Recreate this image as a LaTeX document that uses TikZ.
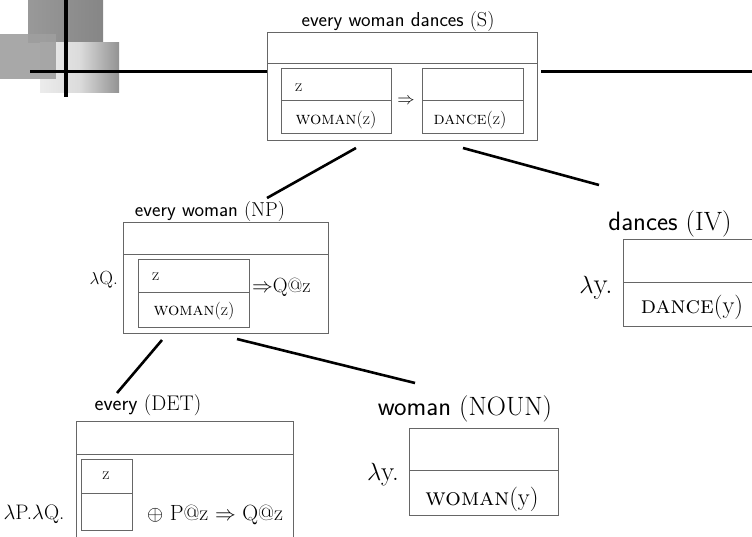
\documentclass[tikz,border=0pt]{standalone}
\usepackage{amsmath, amssymb}
\usepackage{tikz}
\usetikzlibrary{positioning}

\tikzset{
  drsline/.style={draw=black!60, line width=0.9pt},
  branch/.style={line width=2.6pt, line cap=butt},
  rule/.style={line width=3.2pt},
  title/.style={font=\fontsize{20.2}{22}\selectfont},
  bigtitle/.style={font=\fontsize{26.5}{29}\selectfont},
  cond/.style={font=\fontsize{17.8}{20}\selectfont, inner sep=0pt},
  bigcond/.style={font=\fontsize{24.5}{27}\selectfont, inner sep=0pt}
}

\begin{document}
\begin{tikzpicture}[x=1pt, y=-1pt]
    \useasboundingbox (0,0) rectangle (752,536);

    % Corner ornament
    \shade[left color=gray!80, right color=gray!95] (28,0) rectangle (103,42);
    \shade[left color=gray!15, right color=gray!85, middle color=gray!28] (40,42) rectangle (119,92);
    \fill[gray!75, opacity=0.9] (0,34) rectangle (56,79);
    \draw[rule] (66,0) -- (66,97);
    \draw[rule] (30,71.5) -- (267,71.5);
    \draw[rule] (541,71.5) -- (752,71.5);

    % every woman dances (S)
    \node[title] (s-title) at (398,21) {\textsf{every woman dances} (S)};
    \draw[drsline, fill=white] (267,32) rectangle (537,140);
    \draw[drsline] (267,63) -- (537,63);
    \draw[drsline] (281,68) rectangle (391,133);
    \draw[drsline] (281,100) -- (391,100);
    \draw[drsline] (422,68) rectangle (523,133);
    \draw[drsline] (422,100) -- (523,100);
    \node[cond, anchor=west] (s-z) at (295,88) {z};
    \node[cond] (s-woman) at (336,120) {\textsc{woman}(z)};
    \node[cond] (s-imp) at (406,101) {$\Rightarrow$};
    \node[cond] (s-dance) at (470,120) {\textsc{dance}(z)};

    % every woman (NP)
    \node[title] (np-title) at (210,211) {\textsf{every woman} (NP)};
    \draw[drsline] (123,222) rectangle (328,333);
    \draw[drsline] (123,254) -- (328,254);
    \draw[drsline] (138,259) rectangle (249,327);
    \draw[drsline] (138,292) -- (249,292);
    \node[cond, anchor=east, font=\fontsize{19}{21}\selectfont] (np-lambda) at (118,280) {$\lambda$Q.};
    \node[cond, anchor=west] (np-z) at (152,277) {z};
    \node[cond] (np-woman) at (194,311) {\textsc{woman}(z)};
    \node[cond, anchor=west, font=\fontsize{20.5}{22}\selectfont] (np-imp) at (252,287) {$\Rightarrow$Q@z};

    % dances (IV)
    \node[bigtitle] (iv-title) at (670,224) {\textsf{dances} (IV)};
    \draw[drsline] (623,239) rectangle (770,326);
    \draw[drsline] (623,282) -- (770,282);
    \node[bigcond, font=\fontsize{29}{31}\selectfont] (iv-lambda) at (596,288) {$\lambda$y.};
    \node[bigcond] (iv-dance) at (692,307) {\textsc{dance}(y)};

    % every (DET)
    \node[title, font=\fontsize{21.2}{23}\selectfont] (det-title) at (148,405) {\textsf{every} (DET)};
    \draw[drsline] (76,421) rectangle (293,550);
    \draw[drsline] (76,454) -- (293,454);
    \draw[drsline] (81,459) rectangle (132,530);
    \draw[drsline] (81,493) -- (132,493);
    \node[cond, font=\fontsize{21}{23}\selectfont] (det-lambda) at (34,514) {$\lambda$P.$\lambda$Q.};
    \node[cond] (det-z) at (106,476) {z};
    \node[cond, font=\fontsize{22}{24}\selectfont] (det-body) at (215,515) {$\oplus$ P@z $\Rightarrow$ Q@z};

    % woman (NOUN)
    \node[bigtitle] (noun-title) at (465,409) {\textsf{woman} (NOUN)};
    \draw[drsline] (409,428) rectangle (558,515);
    \draw[drsline] (409,470) -- (558,470);
    \node[bigcond, font=\fontsize{27}{29}\selectfont] (noun-lambda) at (383,475) {$\lambda$y.};
    \node[bigcond] (noun-woman) at (482,499) {\textsc{woman}(y)};

    % Tree branches
    \coordinate (s-left) at (356,148);
    \coordinate (s-right) at (463,148);
    \coordinate (np-top) at (267,198);
    \coordinate (iv-top) at (599,185);
    \coordinate (np-left) at (162,340);
    \coordinate (np-right) at (237,339);
    \coordinate (det-top) at (117,393);
    \coordinate (noun-top) at (415,383);
    \draw[branch] (s-left) -- (np-top);
    \draw[branch] (s-right) -- (iv-top);
    \draw[branch] (np-left) -- (det-top);
    \draw[branch] (np-right) -- (noun-top);
\end{tikzpicture}
\end{document}
